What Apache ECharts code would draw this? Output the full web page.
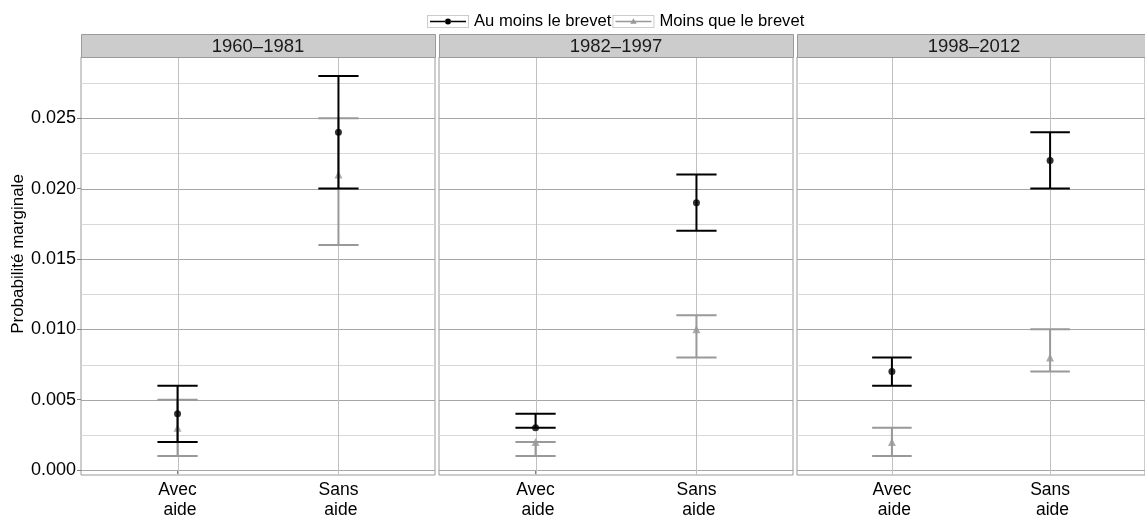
<!DOCTYPE html>
<html><head><meta charset="utf-8">
<script src="https://cdn.jsdelivr.net/npm/echarts@6/dist/echarts.min.js"></script>
<style>html,body{margin:0;padding:0;background:#fff}#c{width:1145px;height:520px}</style>
</head><body><div id="c"></div>
<script>
// ---- data ----
const periods = ['1960–1981', '1982–1997', '1998–2012'];
const categories = ['Avec\n aide', 'Sans\n aide'];
const catPositions = [1, 2];
const groups = ['Au moins le brevet', 'Moins que le brevet'];
// each row = one period, columns = [Avec aide, Sans aide]
const brevetMean = [[0.004, 0.024], [0.003, 0.019], [0.007, 0.022]];
const brevetLow  = [[0.002, 0.020], [0.003, 0.017], [0.006, 0.020]];
const brevetHigh = [[0.006, 0.028], [0.004, 0.021], [0.008, 0.024]];
const moinsMean  = [[0.003, 0.021], [0.002, 0.010], [0.002, 0.008]];
const moinsLow   = [[0.001, 0.016], [0.001, 0.008], [0.001, 0.007]];
const moinsHigh  = [[0.005, 0.025], [0.002, 0.011], [0.003, 0.010]];
const yTicks = [0, 0.005, 0.010, 0.015, 0.020, 0.025];
const yMinor = [0.0025, 0.0075, 0.0125, 0.0175, 0.0225, 0.0275];

// ---- layout / style ----
const FONT = 'Liberation Sans, Arial, Helvetica, sans-serif';
const panelLeft = [81, 439, 797];
const panelWidth = 354;
const plotTop = 57, plotHeight = 423;
const stripTop = 34, stripH = 23;
const yMin = -0.00035, yMax = 0.02935;
const BLACK = '#000000', GREY = '#999999';

const chart = echarts.init(document.getElementById('c'));

function errRender(color) {
  return function (params, api) {
    const x = api.value(0), lo = api.value(1), hi = api.value(2);
    const a = api.coord([x, lo]), b = api.coord([x, hi]);
    const hw = api.size([0.25, 0])[0] / 2;
    const style = { stroke: color, lineWidth: 2, fill: null };
    return { type: 'group', children: [
      { type: 'line', shape: { x1: a[0], y1: a[1], x2: b[0], y2: b[1] }, style },
      { type: 'line', shape: { x1: a[0] - hw, y1: a[1], x2: a[0] + hw, y2: a[1] }, style },
      { type: 'line', shape: { x1: b[0] - hw, y1: b[1], x2: b[0] + hw, y2: b[1] }, style }
    ]};
  };
}
function hLineRender(color) {
  return function (params, api) {
    const cs = params.coordSys;
    const y = Math.round(api.coord([1, api.value(0)])[1]) + 0.5;
    return { type: 'line', shape: { x1: cs.x, y1: y, x2: cs.x + cs.width, y2: y },
      style: { stroke: color, lineWidth: 1 } };
  };
}
function vLineRender(color) {
  return function (params, api) {
    const cs = params.coordSys;
    const x = Math.round(api.coord([api.value(0), 0])[0]) + 0.5;
    return { type: 'line', shape: { x1: x, y1: cs.y, x2: x, y2: cs.y + cs.height },
      style: { stroke: color, lineWidth: 1 } };
  };
}

const grids = [], xAxes = [], yAxes = [], series = [], graphics = [];
periods.forEach((p, i) => {
  grids.push({ left: panelLeft[i], top: plotTop, width: panelWidth, height: plotHeight,
    show: true, borderColor: '#9a9a9a', borderWidth: 1, backgroundColor: '#fff', containLabel: false });
  xAxes.push({ type: 'value', gridIndex: i, min: 0.4, max: 2.6,
    axisLine: { show: false }, splitLine: { show: false },
    axisTick: { show: true, customValues: catPositions, length: 4, lineStyle: { color: '#7f7f7f' } },
    axisLabel: { show: true, customValues: catPositions, margin: 5,
      formatter: v => categories[Math.round(v) - 1] || '',
      fontFamily: FONT, fontSize: 17.5, lineHeight: 20, color: '#000', align: 'center' } });
  yAxes.push({ type: 'value', gridIndex: i, min: yMin, max: yMax,
    axisLine: { show: false }, splitLine: { show: false },
    axisTick: { show: i === 0, customValues: yTicks, length: 4, lineStyle: { color: '#7f7f7f' } },
    axisLabel: { show: i === 0, customValues: yTicks, margin: 5,
      formatter: v => v.toFixed(3), fontFamily: FONT, fontSize: 18, color: '#000' },
    name: i === 0 ? 'Probabilité marginale' : '', nameLocation: 'middle', nameGap: 53,
    nameTextStyle: { fontFamily: FONT, fontSize: 17, color: '#000', padding: [0, 0, 0, 24] } });

  series.push({ type: 'custom', xAxisIndex: i, yAxisIndex: i, z: 1, silent: true,
    renderItem: hLineRender('#d8d8d8'), encode: { y: 0 }, data: yMinor.map(v => [v]) });
  series.push({ type: 'custom', xAxisIndex: i, yAxisIndex: i, z: 1, silent: true,
    renderItem: hLineRender('#a6a6a6'), encode: { y: 0 }, data: yTicks.map(v => [v]) });
  series.push({ type: 'custom', xAxisIndex: i, yAxisIndex: i, z: 1, silent: true,
    renderItem: vLineRender('#c0c0c0'), encode: { x: 0 }, data: catPositions.map(v => [v]) });

  series.push({ type: 'custom', name: groups[1], xAxisIndex: i, yAxisIndex: i, z: 2, silent: true,
    itemStyle: { color: GREY }, encode: { x: 0, y: [1, 2] },
    renderItem: errRender(GREY),
    data: catPositions.map((x, j) => [x, moinsLow[i][j], moinsHigh[i][j]]) });
  series.push({ type: 'scatter', name: groups[1], xAxisIndex: i, yAxisIndex: i, z: 3, silent: true,
    symbol: 'triangle', symbolSize: 8, itemStyle: { color: GREY },
    data: catPositions.map((x, j) => [x, moinsMean[i][j]]) });
  series.push({ type: 'custom', name: groups[0], xAxisIndex: i, yAxisIndex: i, z: 4, silent: true,
    itemStyle: { color: BLACK }, encode: { x: 0, y: [1, 2] },
    renderItem: errRender(BLACK),
    data: catPositions.map((x, j) => [x, brevetLow[i][j], brevetHigh[i][j]]) });
  series.push({ type: 'scatter', name: groups[0], xAxisIndex: i, yAxisIndex: i, z: 5, silent: true,
    symbol: 'circle', symbolSize: 7, itemStyle: { color: BLACK },
    data: catPositions.map((x, j) => [x, brevetMean[i][j]]) });

  graphics.push({ type: 'rect', silent: true, z: 10,
    shape: { x: panelLeft[i] + 0.5, y: stripTop + 0.5, width: panelWidth, height: stripH },
    style: { fill: '#cccccc', stroke: '#9a9a9a', lineWidth: 1 } });
  graphics.push({ type: 'text', silent: true, z: 11,
    x: panelLeft[i] + panelWidth / 2, y: stripTop + stripH / 2 + 1,
    style: { text: p, fill: '#1a1a1a', font: '18.5px ' + FONT, align: 'center', verticalAlign: 'middle' } });
});

const framePath = 'path://M0,0L42,0L42,13L0,13Z M1,1L1,12L41,12L41,1Z';
const dotPath = 'path://M0,0L0,0M42,13L42,13 M3,5.8L18.2,5.8L18.2,7.2L3,7.2Z M23.8,5.8L39,5.8L39,7.2L23.8,7.2Z M18,6.5a3,3 0 1,0 6,0a3,3 0 1,0 -6,0Z';
const triPath = 'path://M0,0L0,0M42,13L42,13 M3,5.8L39,5.8L39,7.2L3,7.2Z M21,3.3L24.2,8.8L17.8,8.8Z';

const legendBase = { left: 427, top: 13, padding: 0, itemGap: 1, itemWidth: 42, itemHeight: 13,
  selectedMode: false, orient: 'horizontal', symbolKeepAspect: false };

chart.setOption({
  animation: false,
  backgroundColor: '#ffffff',
  grid: grids, xAxis: xAxes, yAxis: yAxes, series: series,
  graphic: graphics,
  legend: [
    Object.assign({}, legendBase, { z: 20,
      textStyle: { fontFamily: FONT, fontSize: 16.6, color: 'rgba(0,0,0,0)' },
      itemStyle: { borderWidth: 0 },
      data: groups.map(g => ({ name: g, icon: framePath, itemStyle: { color: '#cccccc', borderWidth: 0 } })) }),
    Object.assign({}, legendBase, { z: 21,
      textStyle: { fontFamily: FONT, fontSize: 16.6, color: '#000' },
      itemStyle: { borderWidth: 0 },
      data: [{ name: groups[0], icon: dotPath, itemStyle: { color: BLACK, borderWidth: 0 } },
             { name: groups[1], icon: triPath, itemStyle: { color: GREY, borderWidth: 0 } }] })
  ]
});
</script></body></html>
